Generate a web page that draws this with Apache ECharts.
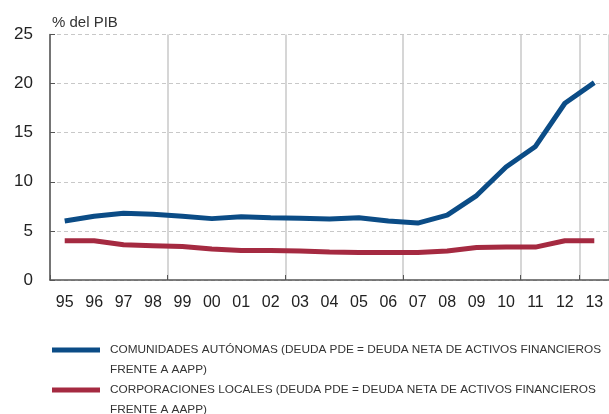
<!DOCTYPE html>
<html>
<head>
<meta charset="utf-8">
<script src="https://cdn.jsdelivr.net/npm/echarts@6/dist/echarts.min.js"></script>
<style>
  html, body { margin: 0; padding: 0; background: #fff; }
  #chart { width: 609px; height: 414px; }
</style>
</head>
<body>
<div id="chart"></div>
<script>
// años (eje X)
const years = ['95', '96', '97', '98', '99', '00', '01', '02', '03', '04', '05', '06', '07', '08', '09', '10', '11', '12', '13']

// % del PIB
const comunidades = [6.0, 6.5, 6.8, 6.7, 6.5, 6.25, 6.45, 6.35, 6.3, 6.2, 6.35, 6.0, 5.8, 6.6, 8.6, 11.5, 13.6, 18.0, 20.1]
const corporaciones = [4.0, 4.0, 3.6, 3.5, 3.4, 3.15, 3.0, 3.0, 2.95, 2.85, 2.8, 2.8, 2.8, 2.95, 3.3, 3.35, 3.35, 4.0, 4.0]

const seriesNames = [
  'COMUNIDADES AUTÓNOMAS (DEUDA PDE = DEUDA NETA DE ACTIVOS FINANCIEROS\nFRENTE A AAPP)',
  'CORPORACIONES LOCALES (DEUDA PDE = DEUDA NETA DE ACTIVOS FINANCIEROS\nFRENTE A AAPP)'
]
const colors = ['#0b4c86', '#a52a41']

const chart = echarts.init(document.getElementById('chart'))

// leyenda: el icono va alineado con la primera línea del texto
const makeLegend = (name, top) => ({
  data: [name],
  left: 52,
  top: top,
  padding: 0,
  orient: 'vertical',
  icon: 'rect',
  itemWidth: 48,
  itemHeight: 5,
  selectedMode: false,
  formatter: n => '\n' + n,
  textStyle: {
    fontFamily: '"Liberation Sans", Arial, sans-serif',
    fontSize: 11.8,
    color: '#333',
    lineHeight: 20,
    padding: [0, 0, 0, 5]
  }
})

chart.setOption({
  animation: false,
  color: colors,
  textStyle: { fontFamily: '"Liberation Sans", Arial, sans-serif' },
  title: {
    text: '% del PIB',
    left: 52,
    top: 15,
    padding: 0,
    textStyle: { fontSize: 15, fontWeight: 'normal', color: '#333' }
  },
  legend: [
    makeLegend(seriesNames[0], 320),
    makeLegend(seriesNames[1], 360)
  ],
  grid: { left: 50, top: 34.5, width: 565, height: 245.5 },
  xAxis: {
    type: 'category',
    data: years,
    boundaryGap: true,
    axisLine: { lineStyle: { color: '#555', width: 1.5 } },
    axisTick: { show: true, inside: true, length: 5, interval: 3, lineStyle: { color: '#555' } },
    axisLabel: { interval: 0, fontSize: 16, color: '#222', margin: 15 },
    splitLine: { show: true, interval: 3, lineStyle: { color: '#c8c8c8', width: 1.5 } }
  },
  yAxis: {
    type: 'value',
    min: 0,
    max: 25,
    interval: 5,
    axisLine: { show: true, lineStyle: { color: '#555', width: 1.5 } },
    axisTick: { show: true, inside: true, length: 5, lineStyle: { color: '#555' } },
    axisLabel: { fontSize: 17, color: '#222', margin: 17 },
    splitLine: { lineStyle: { color: '#c8c8c8', type: [4, 3], width: 1 } }
  },
  series: [
    {
      name: seriesNames[0],
      type: 'line',
      data: comunidades,
      symbol: 'none',
      lineStyle: { width: 5, color: colors[0] }
    },
    {
      name: seriesNames[1],
      type: 'line',
      data: corporaciones,
      symbol: 'none',
      lineStyle: { width: 5, color: colors[1] }
    }
  ]
})
</script>
</body>
</html>
